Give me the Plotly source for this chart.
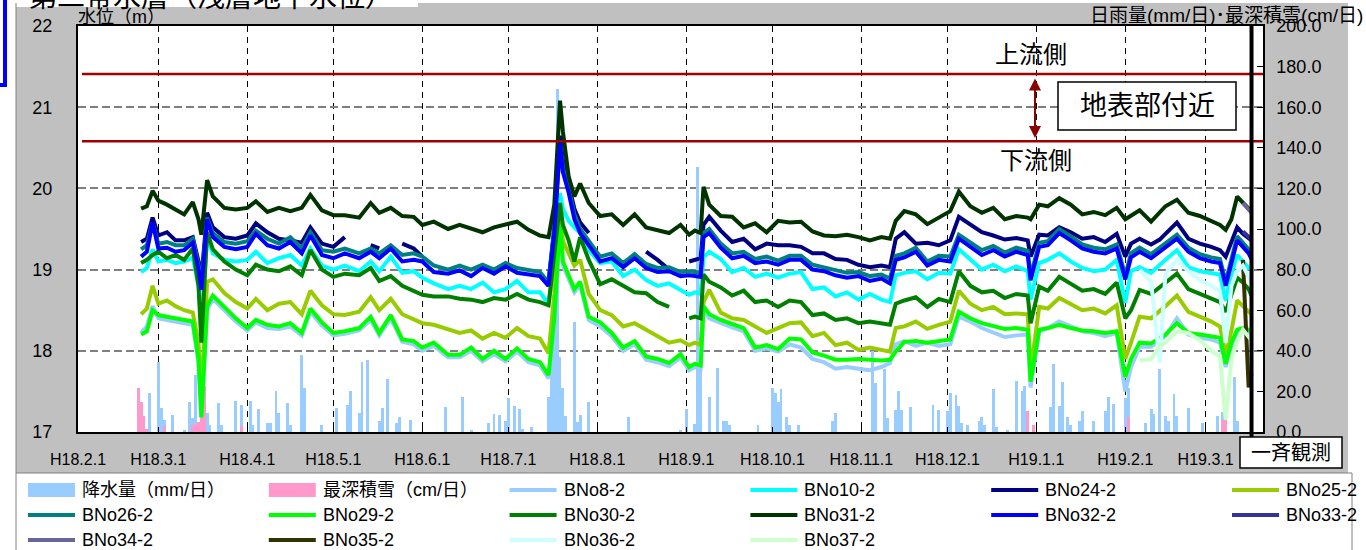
import plotly.graph_objects as go

# ---------------- data ----------------
dates = [
    "2006-02-23", "2006-02-25", "2006-02-27", "2006-03-01", "2006-03-04", "2006-03-07", "2006-03-10", "2006-03-13", "2006-03-15", "2006-03-16",
    "2006-03-18", "2006-03-20", "2006-03-24", "2006-03-28", "2006-04-01", "2006-04-04", "2006-04-08", "2006-04-12", "2006-04-16", "2006-04-20",
    "2006-04-23", "2006-04-27", "2006-05-01", "2006-05-05", "2006-05-10", "2006-05-14", "2006-05-17", "2006-05-21", "2006-05-25", "2006-05-29",
    "2006-06-01", "2006-06-05", "2006-06-10", "2006-06-14", "2006-06-18", "2006-06-22", "2006-06-26", "2006-06-30", "2006-07-04", "2006-07-08",
    "2006-07-12", "2006-07-15", "2006-07-17", "2006-07-19", "2006-07-20", "2006-07-22", "2006-07-24", "2006-07-26", "2006-07-29", "2006-08-02",
    "2006-08-06", "2006-08-10", "2006-08-14", "2006-08-18", "2006-08-22", "2006-08-26", "2006-08-30", "2006-09-02", "2006-09-04", "2006-09-06",
    "2006-09-07", "2006-09-09", "2006-09-13", "2006-09-17", "2006-09-21", "2006-09-25", "2006-09-29", "2006-10-03", "2006-10-07", "2006-10-11",
    "2006-10-15", "2006-10-19", "2006-10-23", "2006-10-27", "2006-10-31", "2006-11-04", "2006-11-08", "2006-11-11", "2006-11-13", "2006-11-16",
    "2006-11-20", "2006-11-24", "2006-11-28", "2006-12-02", "2006-12-05", "2006-12-09", "2006-12-13", "2006-12-17", "2006-12-21", "2006-12-25",
    "2006-12-29", "2006-12-30", "2007-01-02", "2007-01-05", "2007-01-09", "2007-01-13", "2007-01-17", "2007-01-21", "2007-01-25", "2007-01-29",
    "2007-02-01", "2007-02-03", "2007-02-06", "2007-02-10", "2007-02-13", "2007-02-15", "2007-02-19", "2007-02-23", "2007-02-27", "2007-03-03",
    "2007-03-06", "2007-03-08", "2007-03-10", "2007-03-12", "2007-03-14", "2007-03-16", "2007-03-17",
]

bno8 = [
    18.22, 18.30, 18.55, 18.40, 18.38, 18.36, 18.34, 18.32, 17.85, 17.18,
    18.50, 18.64, 18.50, 18.36, 18.25, 18.35, 18.28, 18.27, 18.30, 18.19,
    18.48, 18.31, 18.19, 18.21, 18.25, 18.38, 18.19, 18.40, 18.11, 18.08,
    18.00, 18.06, 17.92, 17.92, 18.00, 17.87, 17.96, 17.87, 17.99, 17.86,
    17.82, 17.66, 18.35, 19.55, 19.05, 18.89, 18.72, 18.81, 18.38, 18.30,
    18.18, 18.00, 18.08, 17.89, 17.86, 17.81, 17.92, 17.76, 17.80, 17.78,
    18.50, 18.40, 18.34, 18.29, 18.24, 18.00, 18.03, 17.99, 18.08, 18.04,
    17.90, 17.86, 17.78, 17.80, 17.78, 17.76, 17.80, 17.85, 18.08, 18.12,
    18.06, 18.10, 18.06, 18.08, 18.42, 18.36, 18.28, 18.22, 18.17, 18.19,
    18.20, 17.55, 18.24, 18.28, 18.36, 18.30, 18.24, 18.22, 18.18, 18.22,
    17.50, 17.80, 18.05, 18.05, 18.12, 18.18, 18.40, 18.20, 18.16, 18.14,
    18.10, 17.80, 18.05, 18.22, 18.24, 18.22, 18.22,
]
bno10 = [
    18.97, 19.02, 19.25, 19.10, 19.12, 19.08, 19.10, 19.15, 18.80, 18.34,
    19.40, 19.20, 19.12, 19.10, 19.12, 19.22, 19.08, 19.14, 19.18, 19.05,
    19.26, 19.05, 19.00, 19.05, 18.98, 19.10, 18.98, 19.16, 18.96, 18.98,
    18.90, 18.83, 18.76, 18.80, 18.76, 18.84, 18.72, 18.76, 18.86, 18.72,
    18.72, 18.58, 19.10, 19.94, 19.75, 19.60, 19.52, 19.45, 19.24, 19.08,
    19.10, 18.92, 19.00, 18.87, 18.80, 18.83, 18.75, 18.69, 18.72, 18.70,
    19.15, 19.22, 19.13, 18.97, 19.02, 18.91, 18.95, 18.90, 18.95, 18.97,
    18.76, 18.78, 18.67, 18.72, 18.63, 18.70, 18.63, 18.60, 18.93, 18.96,
    18.98, 18.88, 18.96, 18.95, 19.25, 19.12, 19.00, 19.06, 18.98, 19.04,
    18.98, 18.63, 19.08, 19.12, 19.20, 19.10, 19.02, 18.98, 19.00, 19.12,
    18.59, 18.98, 19.03, 18.96, 19.06, 19.12, 19.24, 19.03, 18.98, 18.96,
    18.94, 18.62, 18.95, 19.18, 19.09, 19.02, 19.00,
]
bno24 = [
    19.34, 19.38, 19.64, 19.42, 19.46, 19.36, 19.36, 19.40, 19.10, 18.90,
    19.70, 19.52, 19.40, 19.38, 19.42, 19.57, 19.46, 19.38, 19.36, 19.33,
    19.52, 19.32, 19.28, 19.40, None, 19.30, 19.26, None, 19.32, 19.26,
    19.16, None, None, None, None, None, None, None, None, None,
    18.92, 18.86, 19.52, 20.65, 20.35, 20.05, 19.75, 19.58, 19.45, None,
    None, None, None, 19.22, 19.12, 19.00, None, 19.10, 19.12, 19.14,
    19.55, 19.65, 19.48, 19.34, 19.38, 19.25, 19.32, 19.30, 19.30, 19.28,
    19.20, 19.20, 19.13, 19.12, 19.06, 19.03, 19.05, 19.03, 19.38, 19.46,
    19.32, 19.33, 19.30, 19.36, 19.65, 19.55, 19.46, 19.42, 19.37, 19.39,
    19.36, 19.16, 19.43, 19.42, 19.52, 19.46, 19.38, 19.40, 19.34, 19.44,
    19.16, 19.32, 19.38, 19.31, 19.37, 19.44, 19.58, 19.38, 19.32, 19.28,
    19.24, 19.16, 19.35, 19.52, 19.44, 19.38, 19.36,
]
bno25 = [
    18.45, 18.52, 18.80, 18.58, 18.62, 18.55, 18.50, 18.47, 18.10, 17.45,
    18.85, 18.88, 18.71, 18.60, 18.52, 18.64, 18.50, 18.58, 18.60, 18.45,
    18.74, 18.56, 18.45, 18.44, 18.48, 18.66, 18.50, 18.64, 18.45, 18.38,
    18.34, 18.32, 18.27, 18.22, 18.25, 18.15, 18.22, 18.16, 18.28, 18.18,
    18.15, 17.97, 18.70, 19.80, 19.35, 19.20, 19.05, 19.12, 18.70, 18.50,
    18.44, 18.30, 18.34, 18.26, 18.18, 18.10, 18.13, 18.07, 18.10, 18.07,
    18.60, 18.75, 18.47, 18.40, 18.38, 18.30, 18.22, 18.28, 18.34, 18.35,
    18.18, 18.22, 18.07, 18.10, 18.01, 18.04, 18.01, 17.99, 18.28, 18.30,
    18.36, 18.27, 18.32, 18.36, 18.74, 18.58, 18.50, 18.54, 18.45, 18.46,
    18.45, 17.75, 18.54, 18.52, 18.65, 18.58, 18.50, 18.52, 18.46, 18.56,
    17.90, 18.10, 18.42, 18.40, 18.50, 18.55, 18.68, 18.48, 18.42, 18.36,
    18.30, 17.95, 18.25, 18.62, 18.55, 18.48, 18.45,
]
bno26 = [
    19.25, 19.30, 19.58, 19.32, 19.34, 19.30, 19.30, 19.38, 19.05, 18.82,
    19.64, 19.45, 19.34, 19.32, 19.35, 19.48, 19.38, 19.32, 19.40, 19.26,
    19.46, 19.24, 19.22, 19.26, 19.20, 19.26, 19.20, 19.30, 19.18, 19.20,
    19.16, 19.05, 19.00, 19.05, 19.00, 19.06, 19.00, 19.08, 19.02, 19.00,
    18.97, 18.84, 19.50, 20.55, 20.25, 20.00, 19.68, 19.50, 19.36, 19.16,
    19.20, 19.08, 19.19, 19.07, 19.02, 19.03, 18.97, 18.98, 18.97, 18.96,
    19.45, 19.50, 19.32, 19.20, 19.22, 19.13, 19.16, 19.11, 19.17, 19.17,
    19.06, 19.03, 18.99, 18.96, 18.97, 18.92, 18.94, 18.89, 19.17, 19.20,
    19.27, 19.10, 19.17, 19.16, 19.43, 19.33, 19.24, 19.29, 19.21, 19.27,
    19.23, 18.92, 19.33, 19.35, 19.50, 19.41, 19.31, 19.27, 19.25, 19.31,
    18.93, 19.20, 19.27, 19.19, 19.27, 19.31, 19.43, 19.27, 19.19, 19.15,
    19.13, 18.85, 19.15, 19.41, 19.33, 19.25, 19.18,
]
bno29 = [
    18.20, 18.24, 18.50, 18.44, 18.42, 18.40, 18.38, 18.36, 17.90, 17.18,
    18.55, 18.68, 18.54, 18.40, 18.28, 18.38, 18.32, 18.30, 18.34, 18.22,
    18.52, 18.35, 18.22, 18.24, 18.28, 18.42, 18.22, 18.44, 18.14, 18.12,
    18.04, 18.10, 17.95, 17.95, 18.04, 17.90, 18.00, 17.90, 18.03, 17.90,
    17.86, 17.70, 18.40, 19.60, 19.10, 18.93, 18.76, 18.85, 18.42, 18.35,
    18.22, 18.04, 18.12, 17.93, 17.90, 17.85, 17.96, 17.80, 17.84, 17.82,
    18.55, 18.45, 18.38, 18.33, 18.28, 18.04, 18.07, 18.02, 18.15, 18.14,
    17.98, 17.94, 17.89, 17.89, 17.90, 17.89, 17.88, 17.89, 17.99, 18.11,
    18.12, 18.10, 18.12, 18.14, 18.48, 18.40, 18.34, 18.30, 18.27, 18.28,
    18.26, 17.62, 18.26, 18.28, 18.32, 18.28, 18.25, 18.24, 18.22, 18.24,
    17.68, 17.90, 18.10, 18.09, 18.15, 18.20, 18.34, 18.22, 18.20, 18.18,
    18.16, 17.84, 18.10, 18.26, 18.28, 18.26, 18.26,
]
bno30 = [
    19.08, 19.12, 19.18, 19.22, 19.14, 19.18, 19.12, 19.26, 18.80, 18.10,
    19.46, 19.25, 19.10, 19.00, 18.93, 19.06, 19.00, 18.98, 19.04, 18.93,
    19.24, 19.00, 18.91, 18.95, 18.93, 19.02, 18.86, 18.92, 18.80, 18.74,
    18.69, 18.67, 18.67, 18.64, 18.63, 18.60, 18.65, 18.63, 18.70, 18.63,
    18.60, 18.56, 19.20, 19.82, 19.55, 19.36, 19.10, 19.40, 19.12, 18.82,
    18.88, 18.80, 18.72, 18.71, 18.60, 18.54, None, 18.40, 18.42, 18.40,
    18.94, 18.85, 18.78, 18.68, 18.74, 18.60, 18.62, 18.54, 18.62, 18.60,
    18.44, 18.46, 18.38, 18.40, 18.34, 18.36, 18.34, 18.32, 18.58, 18.62,
    18.66, 18.54, 18.64, 18.60, 18.98, 18.80, 18.72, 18.74, 18.65, 18.70,
    18.68, 18.34, 18.79, 18.74, 18.91, 18.82, 18.74, 18.76, 18.70, 18.84,
    18.40, 18.50, 18.75, 18.70, 18.78, 18.84, 18.95, 18.76, 18.70, 18.64,
    18.60, 18.48, 18.70, 18.90, 18.84, 18.76, 18.68,
]
bno31 = [
    19.75, 19.78, 19.97, 19.85, 19.80, 19.74, 19.68, 19.83, 19.62, 19.43,
    20.10, 19.90, 19.76, 19.74, 19.76, 19.84, 19.71, 19.76, 19.72, 19.76,
    19.92, 19.73, 19.67, 19.67, 19.64, 19.82, 19.70, 19.76, 19.66, 19.65,
    19.55, 19.59, 19.50, 19.55, 19.50, 19.46, 19.52, 19.56, 19.59, 19.49,
    19.42, 19.40, 19.80, 21.08, 20.70, 20.15, 19.90, 20.06, 19.82, 19.66,
    19.68, 19.55, 19.68, 19.52, 19.49, 19.45, 19.55, 19.43, 19.48, 19.45,
    20.02, 19.80, 19.66, 19.65, 19.52, 19.57, 19.46, 19.60, 19.58, 19.59,
    19.47, 19.42, 19.41, 19.43, 19.40, 19.36, 19.40, 19.38, 19.60, 19.72,
    19.68, 19.56, 19.64, 19.72, 19.96, 19.78, 19.70, 19.76, 19.62, 19.66,
    19.64, 19.62, 19.80, 19.78, 19.88, 19.80, 19.68, 19.71, 19.67, 19.76,
    19.62, 19.66, 19.73, 19.59, 19.70, 19.78, 19.86, 19.70, 19.66, 19.60,
    19.55, 19.49, 19.62, 19.90, 19.82, 19.75, 19.72,
]
bno32 = [
    19.16, 19.22, 19.58, 19.26, 19.27, 19.22, 19.24, 19.33, 19.00, 18.75,
    19.62, 19.40, 19.28, 19.25, 19.28, 19.44, 19.30, 19.26, 19.34, 19.20,
    19.42, 19.18, 19.14, 19.20, 19.14, 19.22, 19.14, 19.26, 19.10, 19.12,
    19.10, 18.97, 18.95, 18.99, 18.92, 19.02, 18.95, 19.04, 18.96, 18.94,
    18.92, 18.80, 19.45, 20.56, 20.20, 19.95, 19.62, 19.45, 19.30, 19.10,
    19.14, 19.03, 19.14, 19.02, 18.97, 18.98, 18.92, 18.93, 18.92, 18.91,
    19.40, 19.45, 19.27, 19.14, 19.17, 19.08, 19.10, 19.06, 19.12, 19.12,
    19.00, 18.98, 18.93, 18.90, 18.92, 18.86, 18.89, 18.83, 19.12, 19.15,
    19.22, 19.05, 19.12, 19.10, 19.38, 19.28, 19.18, 19.24, 19.16, 19.22,
    19.18, 18.87, 19.28, 19.30, 19.45, 19.36, 19.26, 19.22, 19.20, 19.26,
    18.88, 19.15, 19.22, 19.14, 19.22, 19.26, 19.38, 19.22, 19.14, 19.10,
    19.08, 18.80, 19.10, 19.36, 19.28, 19.20, 19.13,
]

late_dates = ["2007-02-06", "2007-02-10", "2007-02-13", "2007-02-15", "2007-02-19", "2007-02-23", "2007-02-27",
              "2007-03-03", "2007-03-06", "2007-03-08", "2007-03-10", "2007-03-12", "2007-03-14", "2007-03-16", "2007-03-17"]
bno36 = [19.00, 18.85, 17.85, 18.95, 19.12, 18.98, 18.87, 18.80, 18.73, 18.10, 18.80, 18.98, 19.05, 18.92, 18.84]
bno37 = [17.88, 17.90, 18.06, 18.10, 18.24, 18.22, 18.13, 18.00, 17.93, 17.15, 17.90, 18.12, 18.26, 18.18, 18.13]

end_dates = ["2007-03-14", "2007-03-16", "2007-03-17"]
bno33 = [19.47, 19.40, 19.37]
bno34 = [19.82, 19.74, 19.70]
bno35 = [19.12, 17.55, 17.72]

rain_dates = [
    "2006-02-22", "2006-02-26", "2006-03-01", "2006-03-02", "2006-03-03", "2006-03-06", "2006-03-10", "2006-03-12", "2006-03-13", "2006-03-14",
    "2006-03-18", "2006-03-19", "2006-03-22", "2006-03-23", "2006-03-28", "2006-03-30", "2006-04-02", "2006-04-03", "2006-04-05", "2006-04-08",
    "2006-04-09", "2006-04-11", "2006-04-12", "2006-04-15", "2006-04-16", "2006-04-20", "2006-04-21", "2006-04-27", "2006-05-02", "2006-05-06",
    "2006-05-07", "2006-05-10", "2006-05-11", "2006-05-13", "2006-05-17", "2006-05-18", "2006-05-20", "2006-05-23", "2006-05-24", "2006-05-28",
    "2006-06-09", "2006-06-15", "2006-06-18", "2006-06-24", "2006-06-26", "2006-06-28", "2006-06-30", "2006-07-01", "2006-07-03", "2006-07-05",
    "2006-07-06", "2006-07-09", "2006-07-15", "2006-07-16", "2006-07-17", "2006-07-18", "2006-07-19", "2006-07-20", "2006-07-21", "2006-07-24",
    "2006-07-25", "2006-07-26", "2006-07-29", "2006-08-12", "2006-08-30", "2006-09-01", "2006-09-04", "2006-09-05", "2006-09-06", "2006-09-09",
    "2006-09-12", "2006-09-14", "2006-09-15", "2006-09-16", "2006-09-26", "2006-10-01", "2006-10-02", "2006-10-03", "2006-10-04", "2006-10-06",
    "2006-10-07", "2006-10-10", "2006-10-22", "2006-10-23", "2006-11-05", "2006-11-06", "2006-11-09", "2006-11-10", "2006-11-13", "2006-11-14",
    "2006-11-15", "2006-11-18", "2006-11-26", "2006-11-28", "2006-12-01", "2006-12-02", "2006-12-04", "2006-12-05", "2006-12-06", "2006-12-08",
    "2006-12-12", "2006-12-13", "2006-12-14", "2006-12-17", "2006-12-18", "2006-12-22", "2006-12-25", "2006-12-27", "2006-12-28", "2007-01-06",
    "2007-01-07", "2007-01-09", "2007-01-10", "2007-01-12", "2007-01-13", "2007-01-16", "2007-01-17", "2007-01-21", "2007-01-25", "2007-01-26",
    "2007-01-28", "2007-02-01", "2007-02-02", "2007-02-08", "2007-02-10", "2007-02-11", "2007-02-13", "2007-02-15", "2007-02-16", "2007-02-18",
    "2007-02-19", "2007-02-23", "2007-02-28", "2007-03-05", "2007-03-07", "2007-03-08", "2007-03-11", "2007-03-12",
]
rain_vals = [
    6, 19, 34.5, 12, 6, 8.5, 1, 15, 7, 28,
    9.4, 3.6, 14.3, 3.3, 15.4, 13.5, 15.4, 3.3, 11.5, 4.4,
    4.4, 20.4, 9.4, 14.3, 3.6, 38, 21.7, 3.3, 11.8, 13.5,
    20.4, 9.4, 34.5, 35.3, 5.6, 11.8, 26.3, 4.4, 7.2, 6,
    12.3, 17, 1.1, 4.4, 9, 8.5, 5.6, 16.7, 13, 11.5,
    1.6, 2.3, 17, 38, 100, 169, 37, 21.7, 8, 54,
    5, 8.5, 15, 7.2, 1, 11.5, 4, 130.5, 34, 17,
    31.5, 5.3, 5.6, 3.6, 3.3, 21.7, 19.2, 15, 21.3, 7.4,
    3.6, 3.6, 5.6, 9.4, 40, 24, 31, 6.9, 11, 20.4,
    11, 12.2, 13.1, 11, 10.2, 19.2, 18.4, 12.6, 4.4, 3.3,
    5.3, 7.2, 3.3, 21.3, 2.3, 1.1, 25.3, 20, 22.5, 12.2,
    33.5, 12.6, 24.6, 7.2, 3.3, 5.6, 10.2, 5.6, 10.2, 17,
    13.8, 16.7, 21.7, 4.4, 11.5, 8.9, 31.2, 7.7, 5.6, 18.7,
    7.7, 11.8, 4.4, 7.7, 10, 12.6, 27, 5.6,
]
snow_dates = ["2006-02-22", "2006-02-23", "2006-02-24", "2006-02-25", "2006-03-03", "2006-03-13", "2006-03-14", "2006-03-15",
              "2006-03-16", "2006-03-17", "2006-03-30", "2006-12-29", "2006-12-31", "2007-02-02", "2007-03-07", "2007-03-08"]
snow_vals = [21.7, 15, 7.7, 1.6, 2.8, 3.6, 4, 5, 22, 22.8, 2.8, 10.5, 3.6, 7.2, 6, 6]

month_ticks = ["2006-02-01", "2006-03-01", "2006-04-01", "2006-05-01", "2006-06-01", "2006-07-01", "2006-08-01",
               "2006-09-01", "2006-10-01", "2006-11-01", "2006-12-01", "2007-01-01", "2007-02-01", "2007-03-01"]
month_labels = ["H18.2.1", "H18.3.1", "H18.4.1", "H18.5.1", "H18.6.1", "H18.7.1", "H18.8.1",
                "H18.9.1", "H18.10.1", "H18.11.1", "H18.12.1", "H19.1.1", "H19.2.1", "H19.3.1"]
rain_ticks = [0, 20, 40, 60, 80, 100, 120, 140, 160, 180, 200]
level_ticks = [17, 18, 19, 20, 21, 22]
upstream_level = 21.41
downstream_level = 20.58
survey_date = "2007-03-17"

series_names = ["BNo8-2", "BNo10-2", "BNo24-2", "BNo25-2", "BNo26-2", "BNo29-2", "BNo30-2",
                "BNo31-2", "BNo32-2", "BNo33-2", "BNo34-2", "BNo35-2", "BNo36-2", "BNo37-2"]
series_colors = ["#99CCFF", "#00FFFF", "#000080", "#99CC00", "#008080", "#00FF00", "#008000",
                 "#003300", "#0000FF", "#333399", "#666699", "#333300", "#CCFFFF", "#CCFFCC"]
series_x = [dates] * 9 + [end_dates, end_dates, end_dates, late_dates, late_dates]
series_y = [bno8, bno10, bno24, bno25, bno26, bno29, bno30, bno31, bno32, bno33, bno34, bno35, bno36, bno37]
rain_name = "降水量（mm/日）"
snow_name = "最深積雪（cm/日）"
rain_color = "#99CCFF"
snow_color = "#FF99CC"

for xs, ys in zip(series_x, series_y):
    assert len(xs) == len(ys), (len(xs), len(ys))
assert len(rain_dates) == len(rain_vals)
assert len(snow_dates) == len(snow_vals)

# ---------------- geometry helpers ----------------
W, H = 1366, 550
PL, PR, PT, PB = 78, 1263, 26, 432


def fx(x):
    return (x - PL) / (PR - PL)


def fy(y):
    return (PB - y) / (PB - PT)


FONT = "Liberation Sans, Noto Sans CJK JP, sans-serif"

fig = go.Figure()

DAY_MS = 86400000
fig.add_trace(go.Bar(x=rain_dates, y=rain_vals, yaxis="y", width=DAY_MS, name=rain_name,
                     marker=dict(color=rain_color, line=dict(width=0)), showlegend=False))
fig.add_trace(go.Bar(x=snow_dates, y=snow_vals, yaxis="y", width=DAY_MS, name=snow_name,
                     marker=dict(color=snow_color, line=dict(width=0)), showlegend=False))

for name, color, xs, ys in zip(series_names, series_colors, series_x, series_y):
    fig.add_trace(go.Scatter(x=xs, y=ys, yaxis="y2", mode="lines", name=name, connectgaps=False,
                             line=dict(color=color, width=4), showlegend=False))

shapes = []
# grey chart frame and white plot area
shapes.append(dict(type="rect", xref="paper", yref="paper", x0=fx(16), x1=fx(1348), y0=fy(473), y1=fy(3),
                   fillcolor="#C0C0C0", line=dict(width=0), layer="below"))
shapes.append(dict(type="rect", xref="paper", yref="paper", x0=0, x1=1, y0=0, y1=1,
                   fillcolor="white", line=dict(width=0), layer="below"))
shapes.append(dict(type="rect", xref="paper", yref="paper", x0=fx(0), x1=fx(418), y0=fy(7), y1=fy(-2),
                   fillcolor="white", line=dict(width=0), layer="below"))
# blue frame piece at top-left
shapes.append(dict(type="line", xref="paper", yref="paper", x0=fx(5), x1=fx(5), y0=fy(85), y1=fy(-2),
                   line=dict(color="#0000FF", width=4)))
shapes.append(dict(type="line", xref="paper", yref="paper", x0=fx(0), x1=fx(7), y0=fy(85), y1=fy(85),
                   line=dict(color="#0000FF", width=4)))
# legend frame
shapes.append(dict(type="line", xref="paper", yref="paper", x0=fx(16), x1=fx(1352), y0=fy(473), y1=fy(473),
                   line=dict(color="#808080", width=1)))
shapes.append(dict(type="line", xref="paper", yref="paper", x0=fx(16), x1=fx(16), y0=fy(550), y1=fy(3),
                   line=dict(color="#808080", width=1)))
shapes.append(dict(type="line", xref="paper", yref="paper", x0=fx(1352), x1=fx(1352), y0=fy(550), y1=fy(473),
                   line=dict(color="#808080", width=1)))
# reference levels
for lv in (upstream_level, downstream_level):
    shapes.append(dict(type="line", xref="paper", yref="y2", x0=fx(82), x1=1, y0=lv, y1=lv,
                       line=dict(color="#A00000", width=2.5), layer="above"))
# survey date line
shapes.append(dict(type="line", xref="x", yref="paper", x0=survey_date, x1=survey_date, y0=fy(437), y1=1,
                   line=dict(color="black", width=4), layer="above"))
# boxes
shapes.append(dict(type="rect", xref="paper", yref="paper", x0=fx(1058), x1=fx(1236), y0=fy(130), y1=fy(82),
                   fillcolor="white", line=dict(color="black", width=1.5), layer="above"))
shapes.append(dict(type="rect", xref="paper", yref="paper", x0=fx(1240), x1=fx(1342), y0=fy(468), y1=fy(437),
                   fillcolor="white", line=dict(color="black", width=1.5), layer="above"))

annotations = []


def txt(text, x, y, size, xanchor="center", yanchor="middle"):
    annotations.append(dict(text=text, xref="paper", yref="paper", x=fx(x), y=fy(y), showarrow=False,
                            xanchor=xanchor, yanchor=yanchor, borderpad=0,
                            font=dict(size=size, color="black", family=FONT)))


txt("第二帯水層（浅層地下水位）", 28, 14, 28, xanchor="left", yanchor="bottom")
txt("水位（m）", 77, 17, 18, xanchor="left")
txt("日雨量(mm/日)･最深積雪(cm/日)", 1364, 16, 19, xanchor="right")
txt("上流側", 1031, 54, 24)
txt("下流側", 1036, 160, 24)
txt("地表部付近", 1147, 106, 27)
txt("一斉観測", 1291, 453, 20)
annotations.append(dict(text="", xref="paper", yref="paper", x=fx(1035), y=fy(138), ax=0, ay=-61,
                        showarrow=True, arrowhead=2, arrowside="end+start", arrowsize=1.2, arrowwidth=2,
                        arrowcolor="#8B0000"))

# legend (drawn manually to match the 6-column grid)
legend_names = [rain_name, snow_name] + series_names
legend_colors = [rain_color, snow_color] + series_colors
legend_kinds = ["bar", "bar"] + ["line"] * len(series_names)
for i, (nm, col, kind) in enumerate(zip(legend_names, legend_colors, legend_kinds)):
    r, c = divmod(i, 6)
    x0 = 28 + 240.8 * c
    yc = 490 + 25 * r
    if kind == "bar":
        shapes.append(dict(type="rect", xref="paper", yref="paper", x0=fx(x0), x1=fx(x0 + 47),
                           y0=fy(yc + 7), y1=fy(yc - 7), fillcolor=col, line=dict(width=0)))
    else:
        shapes.append(dict(type="line", xref="paper", yref="paper", x0=fx(x0), x1=fx(x0 + 47),
                           y0=fy(yc), y1=fy(yc), line=dict(color=col, width=4)))
    txt(nm, x0 + 53, yc, 18, xanchor="left")

fig.update_layout(
    width=W, height=H, autosize=False,
    margin=dict(l=PL, r=W - PR, t=PT, b=H - PB, pad=0),
    paper_bgcolor="white", plot_bgcolor="white",
    barmode="overlay", bargap=0, showlegend=False,
    font=dict(family=FONT, size=16, color="black"),
    xaxis=dict(type="date", range=["2006-02-01", "2007-03-21"], tickmode="array",
               tickvals=month_ticks, ticktext=month_labels, showgrid=True, gridcolor="black",
               griddash="6px,5px", gridwidth=1, showline=True, linecolor="black", linewidth=2,
               mirror=True, ticks="inside", ticklen=5, tickcolor="black", zeroline=False,
               tickfont=dict(size=16), ticklabelstandoff=12),
    yaxis=dict(side="right", range=[0, 200], tickmode="array", tickvals=rain_ticks,
               ticktext=[f"{v:.1f}" for v in rain_ticks], showgrid=False, showline=True,
               linecolor="black", linewidth=1.5, ticks="inside", ticklen=6, tickcolor="black",
               zeroline=False, tickfont=dict(size=18), ticklabelstandoff=8),
    yaxis2=dict(overlaying="y", side="left", range=[17, 22], tickmode="array", tickvals=level_ticks,
                showgrid=True, gridcolor="#808080", griddash="8px,4px", gridwidth=1.5,
                showline=True, linecolor="black", linewidth=2, ticks="", zeroline=False,
                tickfont=dict(size=18), ticklabelstandoff=20),
    shapes=shapes, annotations=annotations,
)

fig.write_html("out.html", config={"displayModeBar": False},
               post_script="document.body.style.margin='0px';document.body.style.padding='0px';")
